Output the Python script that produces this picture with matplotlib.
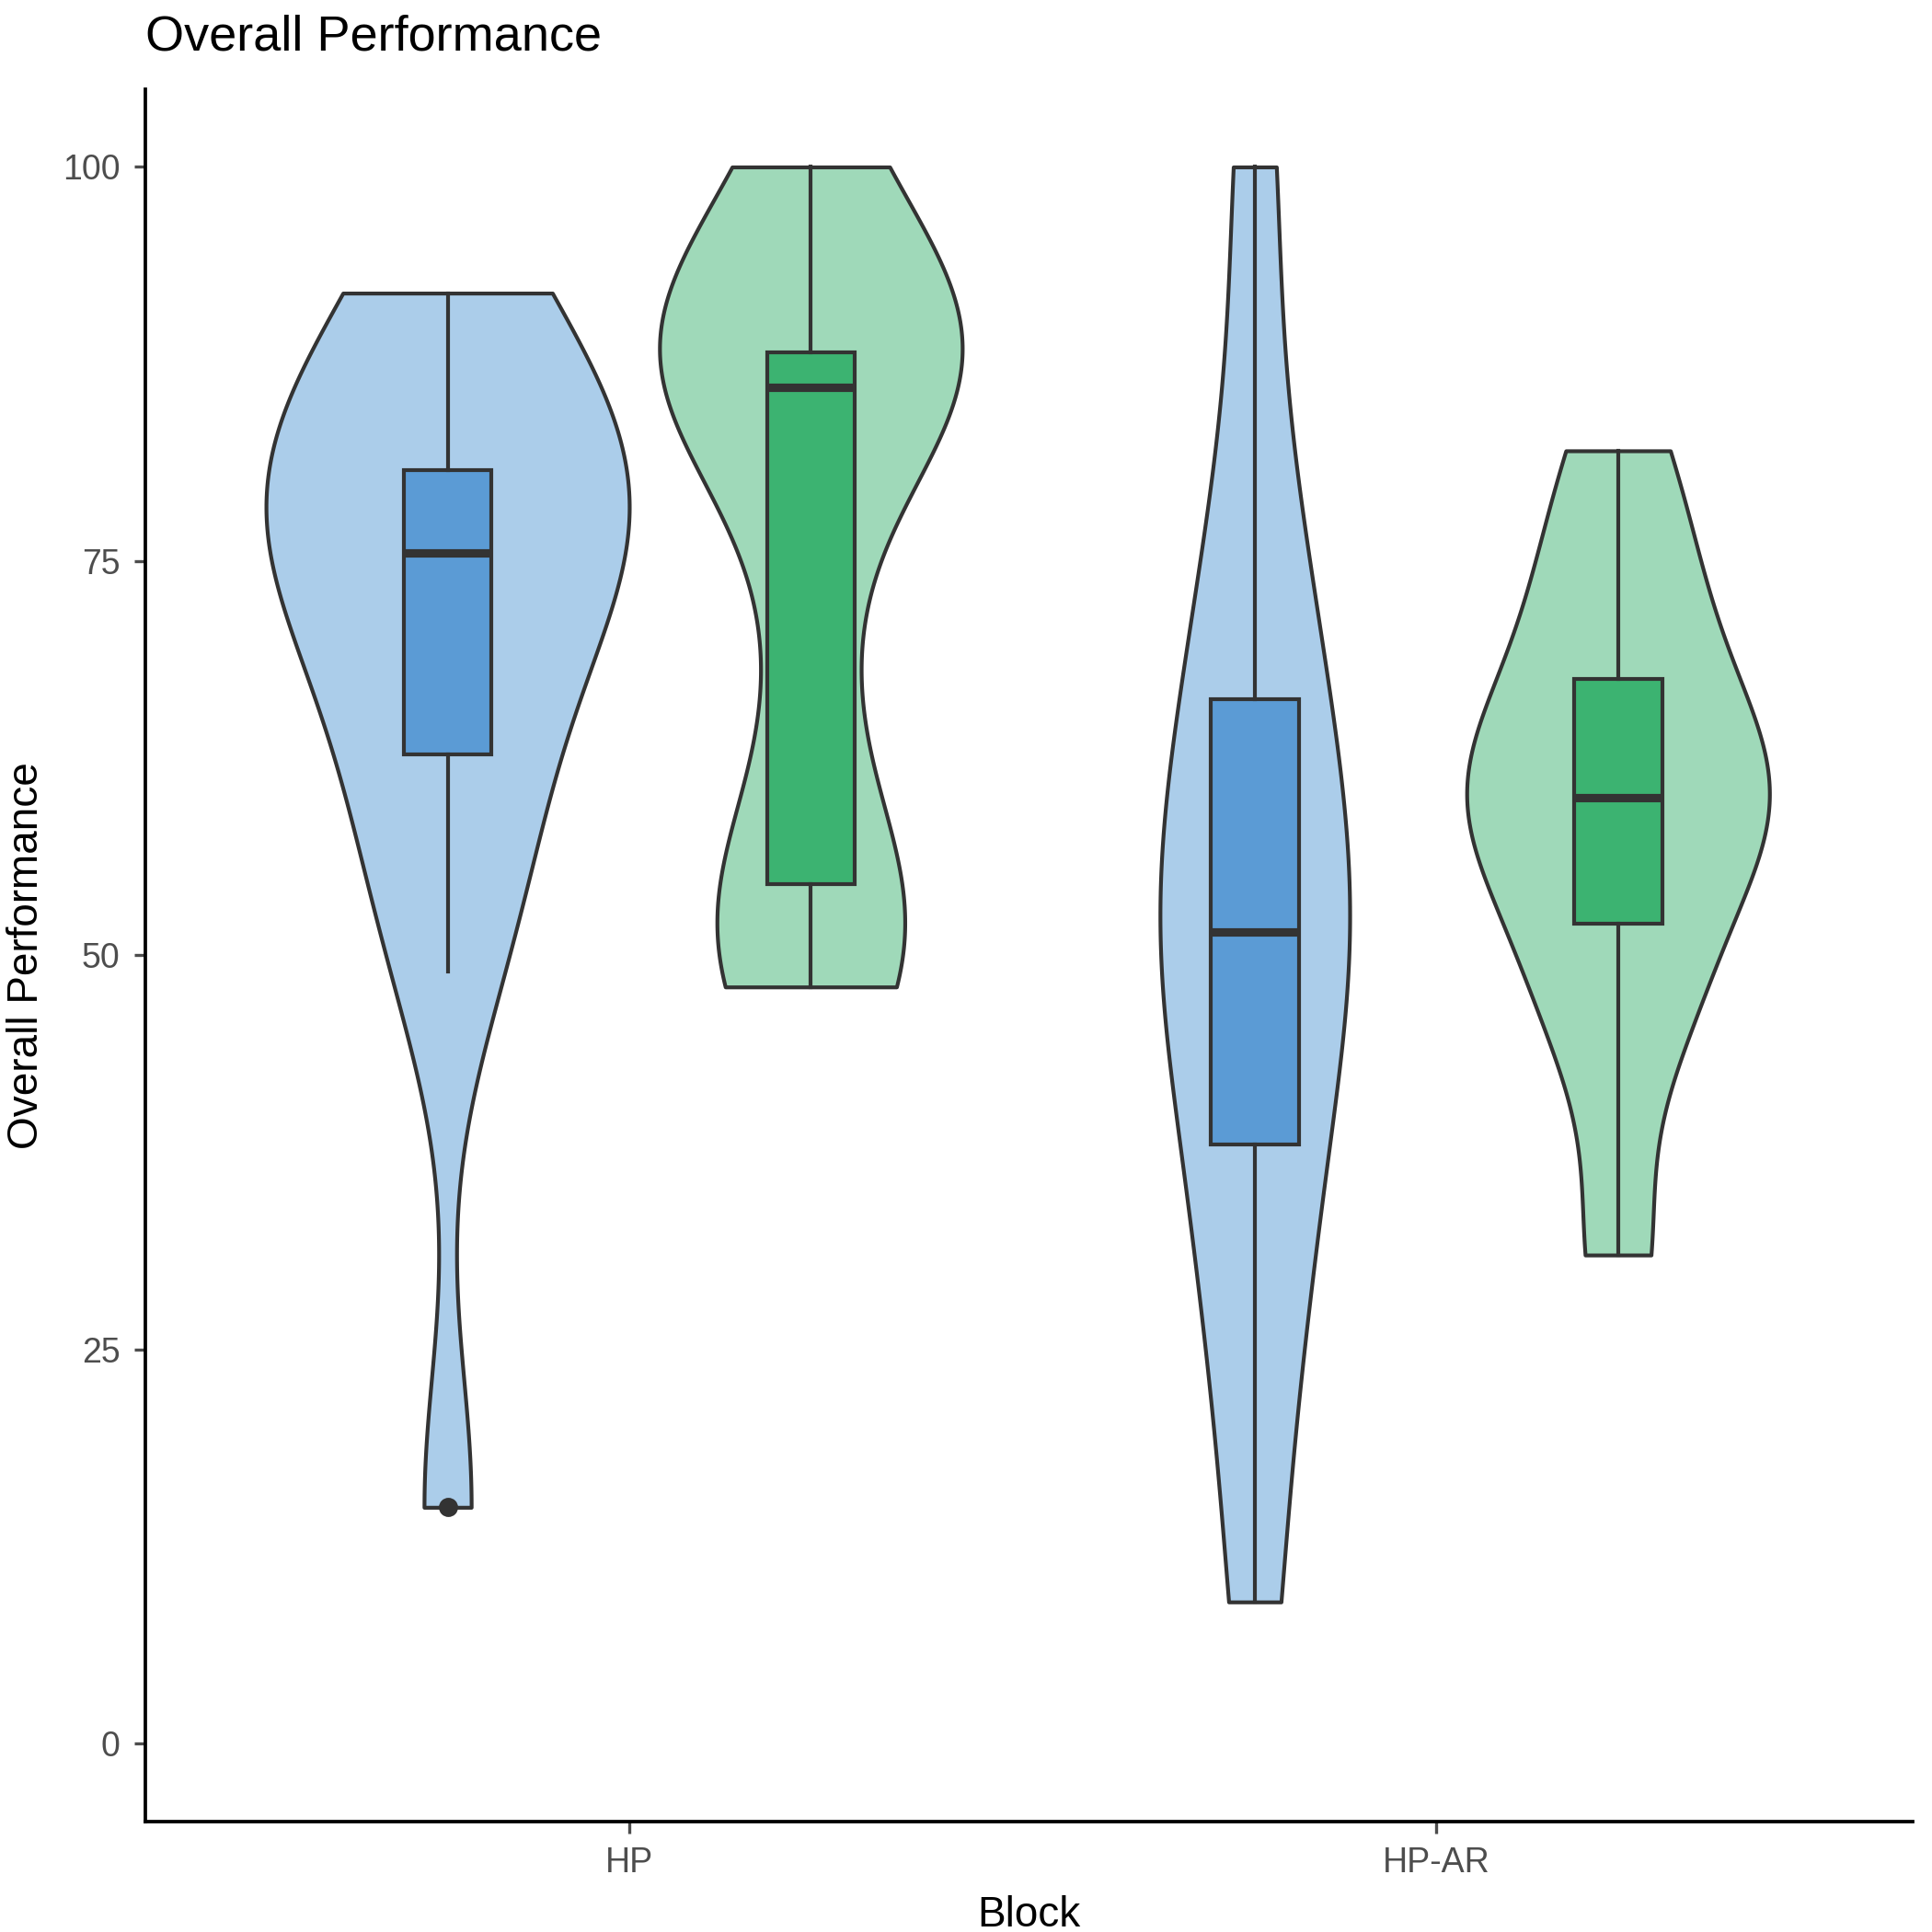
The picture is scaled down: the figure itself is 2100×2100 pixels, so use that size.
import numpy as np
import matplotlib.pyplot as plt

plt.rcParams['font.family'] = ['Liberation Sans', 'DejaVu Sans']

blocks = ["HP", "HP-AR"]
# estimated raw scores per block / condition
hp_blue = [15, 49, 55, 62, 65, 72, 75, 76, 79, 80, 81, 85, 90, 92]
hp_green = [48, 50, 53, 55, 70, 85, 87, 87, 88, 89, 92, 100]
ar_blue = [9, 25, 32, 40, 48, 51, 52, 58, 65, 70, 80, 100]
ar_green = [31, 45, 49, 55, 59, 60, 61, 65, 70, 75, 82]

groups = [hp_blue, hp_green, ar_blue, ar_green]
positions = [0.775, 1.225, 1.775, 2.225]
vwidths = [0.45, 0.375, 0.235, 0.375]
light = ["#ABCDEA", "#9FD9B9", "#ABCDEA", "#9FD9B9"]
dark = ["#5B9BD5", "#3CB371", "#5B9BD5", "#3CB371"]
edge = "#333333"

fig = plt.figure(figsize=(7, 7), dpi=300)
ax = fig.add_axes([0.075, 0.057, 0.915, 0.897])

for d, p, w, c in zip(groups, positions, vwidths, light):
    v = ax.violinplot([d], positions=[p], widths=w, showextrema=False,
                      bw_method=0.45, points=300)
    for b in v['bodies']:
        b.set_facecolor(c)
        b.set_edgecolor(edge)
        b.set_linewidth(1.0)
        b.set_alpha(1)

bp = ax.boxplot(groups, positions=positions, widths=0.109, patch_artist=True,
                whis=1.5, manage_ticks=False,
                medianprops=dict(color=edge, linewidth=2.2),
                whiskerprops=dict(color=edge, linewidth=1.0),
                capprops=dict(linewidth=0),
                boxprops=dict(edgecolor=edge, linewidth=1.0),
                flierprops=dict(marker='o', markerfacecolor=edge,
                                markeredgecolor=edge, markersize=4))
for patch, c in zip(bp['boxes'], dark):
    patch.set_facecolor(c)

ax.set_xlim(0.4, 2.59)
ax.set_ylim(-4.95, 104.95)
ax.set_xticks([1, 2])
ax.set_xticklabels(blocks)
ax.set_yticks([0, 25, 50, 75, 100])
ax.tick_params(labelsize=9, colors='#4D4D4D', length=3, width=0.8)
for lab in ax.get_xticklabels() + ax.get_yticklabels():
    lab.set_color('#4D4D4D')
ax.spines['top'].set_visible(False)
ax.spines['right'].set_visible(False)
ax.spines['left'].set_linewidth(0.9)
ax.spines['bottom'].set_linewidth(0.9)
ax.set_xlabel("Block", fontsize=11)
ax.set_ylabel("Overall Performance", fontsize=11)
ax.set_title("Overall Performance", loc='left', fontsize=13, x=0.0, pad=10)

fig.savefig("out.png", dpi=300)
